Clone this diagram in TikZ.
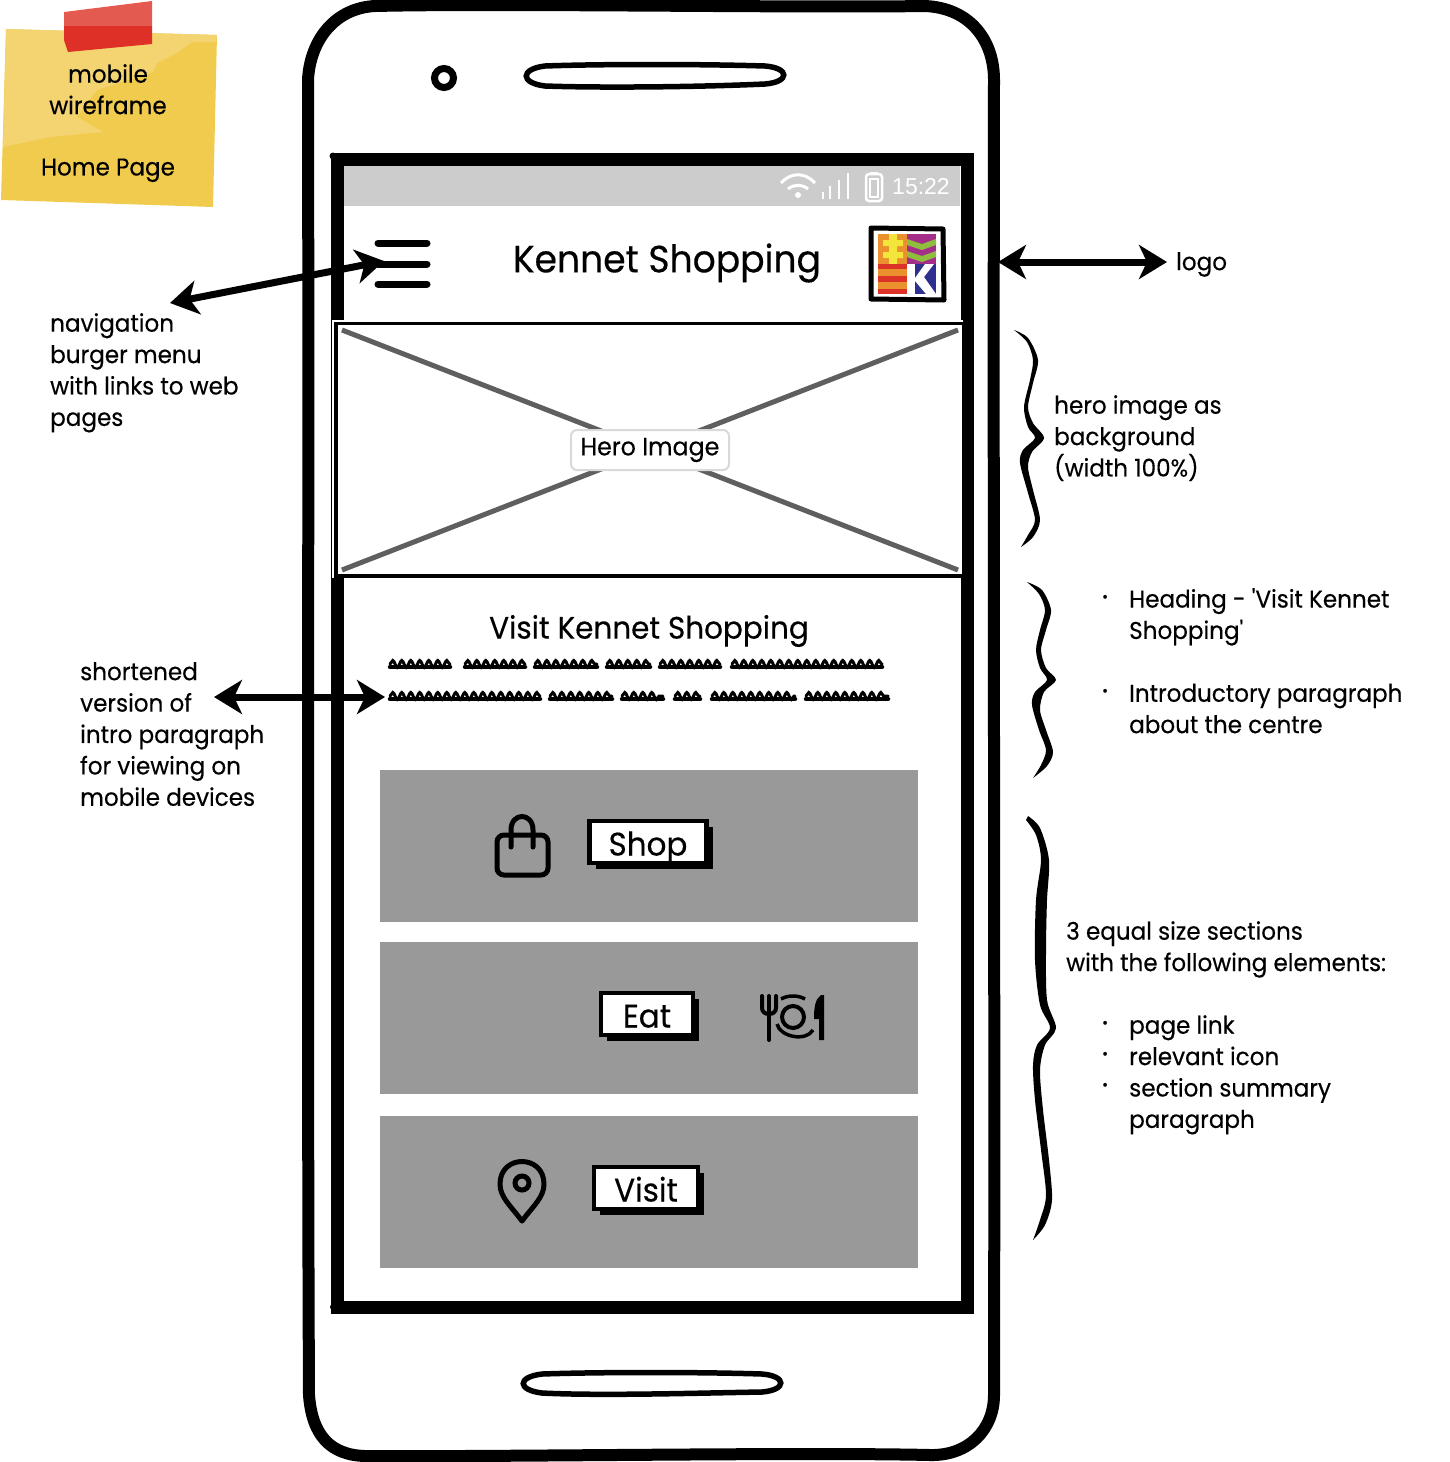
\documentclass[tikz,border=0pt]{standalone}
\usepackage{fontspec}
\newfontfamily\sketchfont[FakeStretch=0.95, FakeBold=0.35]{Poppins}
\newfontfamily\clockfont{Liberation Sans}
\usetikzlibrary{arrows.meta,decorations.pathmorphing,shadows}
\definecolor{notelight}{RGB}{243,212,112}
\definecolor{notedark}{RGB}{241,203,77}
\definecolor{tapetop}{RGB}{226,90,80}
\definecolor{tapelow}{RGB}{222,48,38}
\definecolor{barbg}{RGB}{204,204,204}
\definecolor{blockbg}{RGB}{153,153,153}
\definecolor{crossgrey}{RGB}{95,95,95}
\definecolor{logoorange}{RGB}{234,144,44}
\definecolor{logoyellow}{RGB}{244,229,58}
\definecolor{logopurple}{RGB}{164,45,138}
\definecolor{logogreen}{RGB}{143,190,63}
\definecolor{logored}{RGB}{220,50,40}
\definecolor{logonavy}{RGB}{46,47,142}
\tikzset{
    note/.style={anchor=north west, inner sep=0pt, align=left, font=\sketchfont\fontsize{24.3}{31.4}\selectfont},
    bigarrow/.style={line width=7, {Stealth[length=28pt,width=34pt,inset=8pt]}-{Stealth[length=28pt,width=34pt,inset=8pt]}},
    pagebtn/.style={draw=black, fill=white, line width=4.5, inner sep=0pt, minimum height=42pt,
        text height=31pt, text depth=4pt,
        font=\sketchfont\fontsize{32.6}{36}\selectfont, drop shadow={shadow xshift=6pt, shadow yshift=-6pt, fill=black, opacity=1}},
    block/.style={fill=blockbg},
    scribble/.style={line width=3, line cap=round, decorate, decoration={snake, segment length=9pt, amplitude=3.5pt}},
    scribblecore/.style={line width=4.5, line cap=round},
}

\begin{document}
\begin{tikzpicture}[x=1pt, y=-1pt]
    \useasboundingbox (0,0) rectangle (1450,1462);

    % Sticky note
    \fill[notedark] (6,29) -- (217,35) -- (213,207) -- (1,200) -- cycle;
    \fill[notelight] (6,29) -- (217,35) -- (216,42) -- (192,42) -- (177,53) -- (157,63) -- (153,72)
        -- (97,90) -- (77,117) -- (103,132) -- (50,137) -- (3,147) -- cycle;
    \fill[tapetop] (64,12) -- (152,1) -- (152,26) -- (64,26) -- cycle;
    \fill[tapelow] (64,26) -- (152,26) -- (152,44) -- (68,52) -- (64,40) -- cycle;
    \node[note, anchor=north, align=center] (stickytext) at (108,64) {mobile\\wireframe\\[30pt]Home Page};

    % Phone body
    \draw[line width=12, line join=round] (375,6)
        .. controls (500,3) and (800,8) .. (925,6)
        .. controls (970,8) and (994,40) .. (994,80)
        .. controls (993,500) and (995,1000) .. (994,1395)
        .. controls (994,1430) and (968,1456) .. (930,1455)
        .. controls (800,1452) and (500,1457) .. (365,1456)
        .. controls (330,1455) and (312,1435) .. (309,1395)
        .. controls (307,1000) and (309,500) .. (308,80)
        .. controls (310,40) and (335,8) .. (375,6) -- cycle;
    \draw[line width=7] (444,78) circle[radius=9.5];
    \draw[line width=5.5] (545,66) .. controls (600,64) and (700,64) .. (765,66)
        .. controls (790,68) and (790,82) .. (765,84)
        .. controls (700,87) and (600,88) .. (545,86)
        .. controls (520,83) and (520,69) .. (545,66) -- cycle;
    \draw[line width=5.5] (542,1374) .. controls (600,1372) and (700,1372) .. (762,1374)
        .. controls (787,1376) and (787,1390) .. (762,1392)
        .. controls (700,1393) and (600,1396) .. (542,1393)
        .. controls (517,1390) and (517,1377) .. (542,1374) -- cycle;

    % Screen
    \draw[line width=13] (337,159) -- (967,159) -- (967,1307) -- (337,1307) -- cycle;
    \fill (333,156) circle[radius=3.5];
    \fill (334,1307) circle[radius=4];
    \fill[barbg] (344,166) rectangle (960,206);

    % Status bar
    \begin{scope}[white]
        \fill (798,195) circle[radius=3];
        \draw[line width=3] (788,189) .. controls (794,184) and (802,184) .. (808,189);
        \draw[line width=3] (781,183) .. controls (791,172) and (805,172) .. (815,183);
        \foreach \x/\y in {823/192, 830/186, 839/180, 848/173}
            \draw[line width=2.5] (\x,199) -- (\x,\y);
        \draw[line width=2.5, rounded corners=3] (866,174) rectangle (882,201);
        \fill (870,172) rectangle (878,175);
        \draw[line width=1.5] (870,179) rectangle (878,197);
    \end{scope}
    \node[inner sep=0pt, text=white, font=\clockfont\fontsize{23}{28}\selectfont] (clock) at (921,187) {15:22};

    % Header
    \foreach \y in {243,264,284}
        \draw[line width=7, line cap=round] (378,\y) -- (427,\y);
    \node[inner sep=0pt, font=\sketchfont\fontsize{38}{40}\selectfont] (title) at (667,263) {Kennet Shopping};

    % Logo
    \fill[logoorange] (878,234) rectangle (907,264);
    \fill[logoyellow] (889,234) -- (897,234) -- (897,240) -- (903,240) -- (903,246) -- (897,246) -- (897,252)
        -- (903,252) -- (903,258) -- (897,258) -- (897,264) -- (889,264) -- (889,258) -- (883,258) -- (883,252)
        -- (889,252) -- (889,246) -- (883,246) -- (883,240) -- (889,240) -- cycle;
    \fill[logopurple] (907,234) rectangle (936,264);
    \foreach \y in {239,251}
        \fill[logogreen] (907,\y) -- (922,\y+5) -- (936,\y) -- (936,\y+6) -- (922,\y+11) -- (907,\y+6) -- cycle;
    \fill[logored] (878,264) rectangle (907,294);
    \foreach \y in {269,282}
        \fill[logoorange] (878,\y) rectangle (907,\y+7);
    \fill[logonavy] (915,264) rectangle (936,294);
    \fill[white] (915,278) -- (925,264) -- (934,264) -- (924,277) -- (936,294) -- (926,294) -- (915,281) -- cycle;
    \draw[line width=5, line join=round] (871,228) -- (943,229) -- (944,300) -- (871,299) -- cycle;

    % Hero image
    \fill[white] (332,320) rectangle (963,578);
    \draw[line width=3.5] (336,323.5) -- (963.5,323.5) -- (963.5,576) -- (336,576) -- cycle;
    \draw[crossgrey, line width=5] (342,330) -- (958,570);
    \draw[crossgrey, line width=5] (958,330) -- (342,570);
    \node[draw=black!15, line width=2, fill=white, rounded corners=6, minimum width=158pt, minimum height=40pt,
        inner sep=0pt, font=\sketchfont\fontsize{25}{30}\selectfont] (heroimg) at (650,450) {\raisebox{-3pt}{Hero Image}};

    % Intro text
    \node[inner sep=0pt, font=\sketchfont\fontsize{31}{34}\selectfont] (visitkennet) at (649,631) {Visit Kennet Shopping};
    \foreach \a/\b in {390/450, 465/525, 535/597, 607/650, 660/720, 732/882} {
        \draw[scribblecore] (\a,667) -- (\b,667);
        \draw[scribble] (\a,664) -- (\b,664);
    }
    \foreach \a/\b in {390/540, 550/612, 622/663, 675/700, 712/795, 806/888} {
        \draw[scribblecore] (\a,699) -- (\b,699);
        \draw[scribble] (\a,696) -- (\b,696);
    }

    % Section blocks
    \fill[block] (380,770) rectangle (918,922);
    \fill[block] (380,942) rectangle (918,1094);
    \fill[block] (380,1116) rectangle (918,1268);
    \node[pagebtn, minimum width=117pt] (shopbtn) at (648,842) {Shop};
    \node[pagebtn, minimum width=92pt] (eatbtn) at (647,1014) {Eat};
    \node[pagebtn, minimum width=104pt] (visitbtn) at (646,1188) {Visit};

    % Bag icon
    \draw[line width=5, rounded corners=7] (497,835) rectangle (548,875);
    \draw[line width=5, line cap=round] (511,847) -- (511,830) .. controls (511,812) and (533,812) .. (533,830) -- (533,847);

    % Plate icon
    \draw[line width=4, line cap=round] (762,996) -- (762,1008) .. controls (762,1016) and (776,1016) .. (776,1008) -- (776,996);
    \draw[line width=4, line cap=round] (769,996) -- (769,1040);
    \draw[line width=4] (793,1017) circle[radius=11];
    \draw[line width=3.5] (781,999) .. controls (788,995) and (798,995) .. (805,999);
    \draw[line width=3.5] (777,1024) .. controls (780,1037) and (806,1042) .. (813,1030);
    \fill (821,995) -- (824,995) -- (824,1040) -- (819,1040) -- (819,1019) -- (814,1019) .. controls (814,1008) and (815,999) .. (821,995) -- cycle;

    % Pin icon
    \draw[line width=5, line join=round] (522,1221) .. controls (510,1205) and (500,1197) .. (500,1184)
        .. controls (500,1154) and (544,1154) .. (544,1184)
        .. controls (544,1197) and (534,1205) .. (522,1221) -- cycle;
    \draw[line width=5] (522,1183) circle[radius=7];

    % Arrows
    \coordinate (burgertip) at (384,261);
    \coordinate (navtip) at (170,303);
    \coordinate (logotipa) at (998,262);
    \coordinate (logotipb) at (1167,262);
    \coordinate (introtipa) at (214,697);
    \coordinate (introtipb) at (385,697);
    \draw[bigarrow] (navtip) -- (burgertip);
    \draw[bigarrow] (logotipa) -- (logotipb);
    \draw[bigarrow] (introtipa) -- (introtipb);

    % Braces
    \fill plot[smooth] coordinates {(1014,330) (1028,338) (1038,360) (1033,383) (1028,407) (1033,423) (1044,438) (1032,452) (1028,467) (1033,490) (1040,520) (1033,537) (1021,547)}
        -- plot[smooth] coordinates {(1021,547) (1028,535) (1035,520) (1028,493) (1020,463) (1023,450) (1035,438) (1028,427) (1024,407) (1030,380) (1033,360) (1027,342) (1014,330)} -- cycle;
    \fill plot[smooth] coordinates {(1027,582) (1042,590) (1051,610) (1046,630) (1041,650) (1046,668) (1056,680) (1044,692) (1040,710) (1046,730) (1053,752) (1047,766) (1033,778)}
        -- plot[smooth] coordinates {(1033,778) (1041,765) (1046,750) (1039,730) (1032,705) (1035,692) (1047,680) (1040,668) (1036,650) (1040,630) (1045,610) (1039,594) (1027,582)} -- cycle;
    \fill plot[smooth] coordinates {(1028,816) (1040,828) (1049,860) (1047,900) (1046,950) (1047,1000) (1056,1028) (1045,1045) (1040,1070) (1043,1110) (1049,1160) (1052,1200) (1045,1225) (1033,1240)}
        -- plot[smooth] coordinates {(1033,1240) (1040,1220) (1046,1195) (1041,1150) (1035,1100) (1033,1065) (1037,1045) (1050,1028) (1040,1005) (1035,960) (1036,900) (1041,860) (1036,835) (1026,820)} -- cycle;

    % Notes
    \node[note] (navnote) at (50,313) {navigation\\burger menu\\with links to web\\pages};
    \node[note] (intronote) at (80,662) {shortened\\version of\\intro paragraph\\for viewing on\\mobile devices};
    \node[note] (logonote) at (1176,252) {logo};
    \node[note] (heronote) at (1054,395) {hero image as\\background\\(width 100\%)};
    \node[note] (headingnote) at (1129,588) {Heading - 'Visit Kennet\\Shopping'\\[31.4pt]Introductory paragraph\\about the centre};
    \node[note] (sectionnote) at (1066,921) {3 equal size sections\\with the following elements:};
    \node[note] (elementnote) at (1129,1015) {page link\\relevant icon\\section summary\\paragraph};
    \foreach \y [count=\i] in {601,695,1027,1058,1089}
        \node[inner sep=0pt, font=\sketchfont\fontsize{30}{32}\selectfont] (dot\i) at (1105,\y) {·};
\end{tikzpicture}
\end{document}
